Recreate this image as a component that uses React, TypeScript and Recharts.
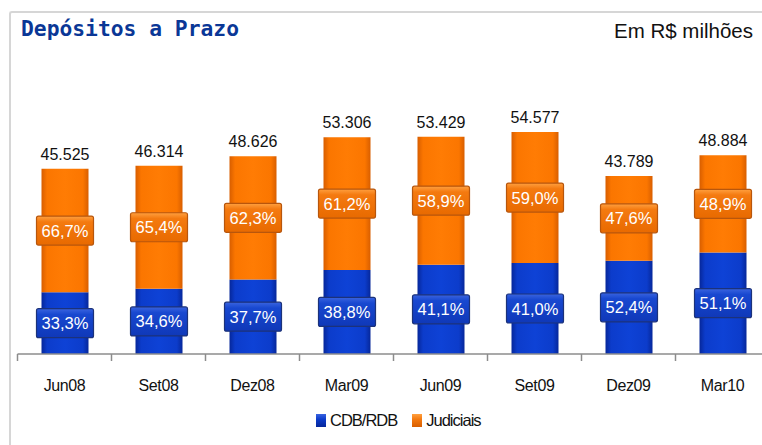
import React from "react";
import { BarChart, Bar, XAxis, YAxis, LabelList } from "recharts";

const categories = ["Jun08", "Set08", "Dez08", "Mar09", "Jun09", "Set09", "Dez09", "Mar10"];
const totals = [45525, 46314, 48626, 53306, 53429, 54577, 43789, 48884];
const cdbShare = [33.3, 34.6, 37.7, 38.8, 41.1, 41.0, 52.4, 51.1];
const judShare = [66.7, 65.4, 62.3, 61.2, 58.9, 59.0, 47.6, 48.9];

const data = categories.map((name, i) => ({
  name,
  total: totals[i],
  cdbPct: cdbShare[i],
  judPct: judShare[i],
  cdb: (totals[i] * cdbShare[i]) / 100,
  jud: (totals[i] * judShare[i]) / 100,
}));

const LEFT = 17.5;
const BAND = 94;
const CHART_W = LEFT + BAND * categories.length;
const FONT = "'Liberation Sans', Arial, sans-serif";

const fmtThousands = (n: number) => String(n).replace(/\B(?=(\d{3})+(?!\d))/g, ".");
const fmtPct = (n: number) => n.toFixed(1).replace(".", ",") + "%";

// caixinha com o percentual no meio do segmento
const pctBox = (kind: "blue" | "orange") => (props: any) => {
  const { x, y, width, height, value } = props;
  const cx = x + width / 2;
  const cy = y + height / 2;
  const bw = 57;
  const bh = 29;
  return (
    <g>
      <rect
        x={cx - bw / 2}
        y={cy - bh / 2}
        width={bw}
        height={bh}
        rx={2}
        fill={kind === "blue" ? "url(#boxBlue)" : "url(#boxOrange)"}
        stroke={kind === "blue" ? "#1c327a" : "#b8560c"}
        strokeWidth={1.2}
      />
      <text x={cx} y={cy + 6} textAnchor="middle" fill="#fff" fontSize={16.5} fontFamily={FONT}>
        {fmtPct(value)}
      </text>
    </g>
  );
};

const totalLabel = (props: any) => {
  const { x, y, width, value } = props;
  return (
    <text x={x + width / 2} y={y - 9} textAnchor="middle" fill="#111" fontSize={16} fontFamily={FONT}>
      {fmtThousands(value)}
    </text>
  );
};

const CatTick = (props: any) => {
  const { x, y, payload } = props;
  return (
    <g>
      <line x1={x - BAND / 2} y1={y} x2={x - BAND / 2} y2={y + 7} stroke="#8c8c8c" strokeWidth={1.5} />
      <text x={x} y={y + 37} textAnchor="middle" fill="#111" fontSize={16} fontFamily={FONT} letterSpacing={-0.4}>
        {payload.value}
      </text>
    </g>
  );
};

export default function App() {
  return (
    <div style={{ position: "absolute", left: 0, top: 0, width: 762, height: 445, overflow: "hidden", background: "#fff" }}>
      {/* moldura */}
      <div
        style={{
          position: "absolute",
          left: 9,
          top: 11,
          width: 760,
          height: 440,
          borderTop: "2px solid #d6d6d6",
          borderLeft: "2px solid #d6d6d6",
          borderTopLeftRadius: 3,
        }}
      />
      <div
        style={{
          position: "absolute",
          left: 21,
          top: 16,
          fontFamily: "'DejaVu Sans Mono', monospace",
          fontWeight: "bold",
          fontSize: 21.3,
          color: "#0a3796",
        }}
      >
        Depósitos a Prazo
      </div>
      <div
        style={{
          position: "absolute",
          right: 9,
          top: 19,
          fontFamily: FONT,
          fontSize: 20.5,
          color: "#111",
        }}
      >
        Em R$ milhões
      </div>

      <div style={{ position: "absolute", left: 0, top: 0 }}>
        <BarChart width={CHART_W} height={445} data={data} margin={{ top: 110, right: 0, bottom: 51, left: LEFT }} barSize={47}>
          <defs>
            <linearGradient id="gBlue" x1="0" y1="0" x2="1" y2="0">
              <stop offset="0%" stopColor="#06279a" />
              <stop offset="12%" stopColor="#0c3ccb" />
              <stop offset="50%" stopColor="#0e42d6" />
              <stop offset="88%" stopColor="#0c3ccb" />
              <stop offset="100%" stopColor="#06279a" />
            </linearGradient>
            <linearGradient id="gOrange" x1="0" y1="0" x2="1" y2="0">
              <stop offset="0%" stopColor="#d85e00" />
              <stop offset="12%" stopColor="#fb7600" />
              <stop offset="50%" stopColor="#ff7c04" />
              <stop offset="88%" stopColor="#fb7600" />
              <stop offset="100%" stopColor="#d85e00" />
            </linearGradient>
            <linearGradient id="boxBlue" x1="0" y1="0" x2="0" y2="1">
              <stop offset="0%" stopColor="#3a64e0" />
              <stop offset="20%" stopColor="#1848d0" />
              <stop offset="100%" stopColor="#0f38b8" />
            </linearGradient>
            <linearGradient id="boxOrange" x1="0" y1="0" x2="0" y2="1">
              <stop offset="0%" stopColor="#ffa040" />
              <stop offset="20%" stopColor="#f47a10" />
              <stop offset="100%" stopColor="#e86a00" />
            </linearGradient>
          </defs>
          <XAxis
            dataKey="name"
            height={40}
            axisLine={{ stroke: "#8c8c8c", strokeWidth: 1.5 }}
            tickLine={false}
            tickSize={0}
            tickMargin={0}
            tick={<CatTick />}
            interval={0}
          />
          <YAxis hide width={0} domain={[0, 60000]} />
          <Bar dataKey="cdb" stackId="a" fill="url(#gBlue)" isAnimationActive={false}>
            <LabelList dataKey="cdbPct" content={pctBox("blue")} />
          </Bar>
          <Bar dataKey="jud" stackId="a" fill="url(#gOrange)" isAnimationActive={false}>
            <LabelList dataKey="judPct" content={pctBox("orange")} />
            <LabelList dataKey="total" content={totalLabel} />
          </Bar>
        </BarChart>
      </div>

      {/* legenda */}
      <div
        style={{
          position: "absolute",
          left: 316,
          top: 411,
          display: "flex",
          alignItems: "center",
          fontFamily: FONT,
          fontSize: 16.5,
          color: "#111",
          letterSpacing: -1,
        }}
      >
        <span style={{ width: 10, height: 13, background: "linear-gradient(#3a64e0, #0c3ccb 40%, #06279a)", marginRight: 4 }} />
        <span style={{ marginRight: 15 }}>CDB/RDB</span>
        <span style={{ width: 10, height: 13, background: "linear-gradient(#ffa040, #f47a10 40%, #d85e00)", marginRight: 4 }} />
        <span>Judiciais</span>
      </div>
    </div>
  );
}
